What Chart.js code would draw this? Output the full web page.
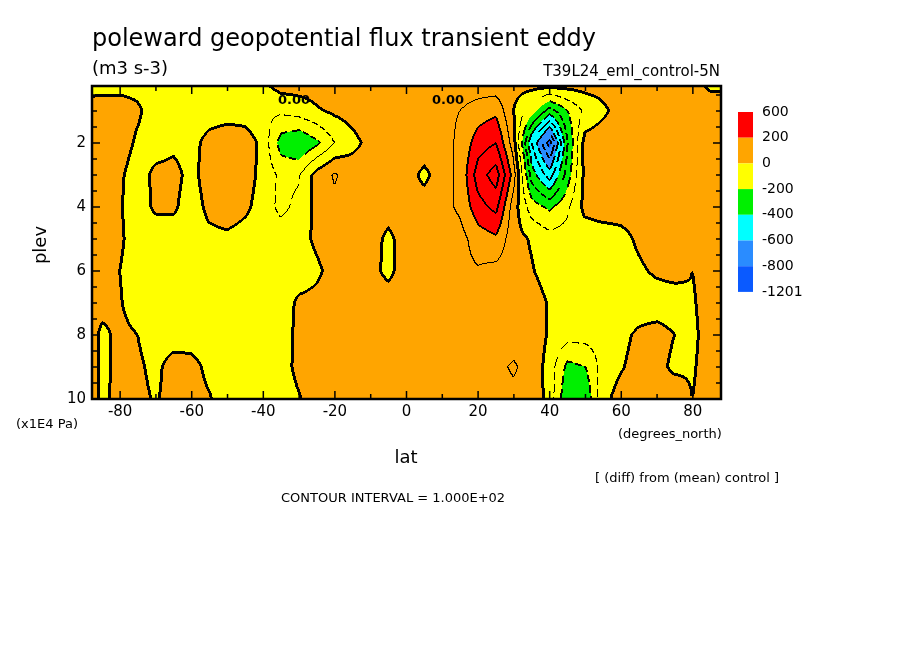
<!DOCTYPE html>
<html>
<head>
<meta charset="utf-8">
<script src="https://cdn.jsdelivr.net/npm/chart.js@4.4.1/dist/chart.umd.min.js"></script>
<style>
  body { margin: 0; background: #fff; }
  #wrap { width: 904px; height: 654px; }
</style>
</head>
<body>
<div id="wrap"><canvas id="flux"></canvas></div>
<script>
// grid of the field
var lats = [-90,-85,-80,-75,-70,-65,-60,-55,-50,-45,-40,-35,-30,-25,-20,-15,-10,-5,0,5,10,15,20,25,30,35,40,45,50,55,60,65,70,75,80,85,90];
var plevs = [0.2, 1, 2, 3, 4, 5, 6, 7, 8, 9, 10];
var flux = [
  // p = 0.2
  [-40,-40,-40,-40,-40,-40,-40,-40,-40,-40,-20,40,40,40,40,40,40,40,40,40,40,40,40,40,40,40,40,40,40,40,40,40,40,40,40,-20,-20],
  // p = 1
  [40,60,60,20,-60,-60,-60,-60,-60,-60,-80,-80,-50,-10,20,40,60,60,60,60,80,100,150,180,0,-150,-350,-200,-80,-20,40,60,60,60,60,60,60],
  // p = 2
  [40,60,60,-20,-60,-30,-40,40,80,60,-30,-250,-300,-220,-100,-30,30,60,90,80,60,120,250,300,50,-500,-850,-300,40,60,60,60,60,60,60,60,60],
  // p = 3
  [40,60,20,-60,30,40,-40,60,80,60,-40,-120,-110,40,110,60,60,60,60,-30,60,120,350,450,150,-350,-550,-250,30,60,60,60,60,60,60,60,60],
  // p = 4
  [40,60,10,-60,20,20,-60,30,80,30,-60,-120,-80,30,80,60,60,60,60,60,60,120,260,330,50,-150,-220,-120,30,60,60,60,60,60,60,60,60],
  // p = 5
  [60,60,20,-60,-60,-60,-60,-30,-30,-60,-60,-60,-40,20,60,60,60,-30,60,60,60,60,150,180,40,-10,-60,-60,-60,-60,-40,20,60,60,60,60,60],
  // p = 6
  [60,50,0,-60,-60,-60,-60,-60,-60,-60,-60,-60,-60,-20,40,60,40,-30,60,70,70,70,90,70,50,10,-50,-60,-60,-60,-60,-20,20,40,0,40,40],
  // p = 7
  [60,50,10,-60,-60,-60,-60,-60,-60,-60,-60,-60,20,30,60,60,60,60,60,60,60,60,60,60,60,60,-10,-60,-60,-60,-60,-60,-60,-60,-10,40,40],
  // p = 8
  [120,-30,30,0,-60,-60,-60,-60,-60,-60,-60,-60,30,50,40,60,60,60,60,60,60,60,60,60,60,60,-10,-60,-60,-60,-30,20,40,0,-20,40,40],
  // p = 9
  [120,-30,30,20,-30,50,40,-30,-60,-80,-50,-50,30,60,60,60,60,60,60,60,60,60,60,80,110,70,-40,-230,-200,-60,-10,40,30,-20,-10,40,40],
  // p = 10
  [120,-30,40,30,-10,40,40,10,-60,-60,-60,-60,-10,60,60,60,60,60,60,60,60,60,60,60,80,60,-30,-300,-280,-30,40,60,60,60,0,40,40]
];
var levels = [600, 200, 0, -200, -400, -600, -800, -1201];
var levelColors = ['#ff0000', '#ffa500', '#ffff00', '#00f000', '#00ffff', '#2a8cff', '#0a5aff'];
var latTicks = [-80, -60, -40, -20, 0, 20, 40, 60, 80];
var plevTicks = [2, 4, 6, 8, 10];

function rgb(hex) {
  return [parseInt(hex.substr(1,2),16), parseInt(hex.substr(3,2),16), parseInt(hex.substr(5,2),16)];
}

function locate(arr, v) {
  var i = 0;
  while (i < arr.length - 2 && v > arr[i + 1]) i++;
  var t = (v - arr[i]) / (arr[i + 1] - arr[i]);
  return [i, Math.max(0, Math.min(1, t))];
}

function fieldAt(lat, p) {
  var a = locate(lats, lat), b = locate(plevs, p);
  var i = a[0], tx = a[1], j = b[0], ty = b[1];
  var v00 = flux[j][i], v10 = flux[j][i + 1], v01 = flux[j + 1][i], v11 = flux[j + 1][i + 1];
  return (v00 * (1 - tx) + v10 * tx) * (1 - ty) + (v01 * (1 - tx) + v11 * tx) * ty;
}

function colorFor(v) {
  for (var k = 1; k < levels.length - 1; k++) {
    if (v >= levels[k]) return k - 1;
  }
  return levelColors.length - 1;
}

var contourPlugin = {
  id: 'contour',
  beforeDatasetsDraw: function(chart) {
    var ctx = chart.ctx, a = chart.chartArea;
    var xs = chart.scales.x, ys = chart.scales.y;
    var w = Math.round(a.right - a.left), h = Math.round(a.bottom - a.top);
    var vals = new Float32Array(w * h);
    for (var py = 0; py < h; py++) {
      var p = ys.getValueForPixel(a.top + py + 0.5);
      for (var px = 0; px < w; px++) {
        vals[py * w + px] = fieldAt(xs.getValueForPixel(a.left + px + 0.5), p);
      }
    }
    var img = ctx.createImageData(w, h);
    var cols = levelColors.map(rgb);
    var black = new Uint8Array(w * h);
    for (var py = 0; py < h; py++) {
      for (var px = 0; px < w; px++) {
        var idx = py * w + px, v = vals[idx];
        var k1 = Math.floor(v / 100);
        var nb = [];
        if (px + 1 < w) nb.push(idx + 1);
        if (py + 1 < h) nb.push(idx + w);
        for (var n = 0; n < nb.length; n++) {
          var k2 = Math.floor(vals[nb[n]] / 100);
          if (k1 !== k2) {
            var lev = Math.max(k1, k2) * 100;
            if (lev === 0) {
              black[idx] = 1; black[nb[n]] = 1;
              if (px > 0) black[idx - 1] = 1;
              if (py > 0) black[idx - w] = 1;
            }
            else if (lev < 0) {
              if (((px + py) >> 2) % 3 !== 0) {
                black[idx] = 1;
                if (lev <= -200) black[nb[n]] = 1;
              }
            }
            else {
              black[idx] = 1;
              if (lev >= 200) black[nb[n]] = 1;
            }
          }
        }
      }
    }
    for (var i = 0; i < w * h; i++) {
      var c = black[i] ? [0, 0, 0] : cols[colorFor(vals[i])];
      img.data[i * 4] = c[0]; img.data[i * 4 + 1] = c[1]; img.data[i * 4 + 2] = c[2]; img.data[i * 4 + 3] = 255;
    }
    ctx.putImageData(img, Math.round(a.left), Math.round(a.top));
  },
  afterDraw: function(chart) {
    var ctx = chart.ctx, a = chart.chartArea;
    var xs = chart.scales.x, ys = chart.scales.y;
    ctx.save();
    ctx.strokeStyle = '#000';
    ctx.lineWidth = 2.5;
    ctx.strokeRect(a.left, a.top, a.right - a.left, a.bottom - a.top);
    // inward ticks
    ctx.lineWidth = 1.5;
    ctx.beginPath();
    for (var lat = -80; lat <= 80; lat += 10) {
      var x = xs.getPixelForValue(lat), len = lat % 20 === 0 ? 8 : 5;
      ctx.moveTo(x, a.bottom); ctx.lineTo(x, a.bottom - len);
      ctx.moveTo(x, a.top); ctx.lineTo(x, a.top + len);
    }
    for (var p = 0.5; p <= 10; p += 0.5) {
      var y = ys.getPixelForValue(p), len2 = p % 2 === 0 ? 8 : 5;
      ctx.moveTo(a.left, y); ctx.lineTo(a.left + len2, y);
      ctx.moveTo(a.right, y); ctx.lineTo(a.right - len2, y);
    }
    ctx.stroke();
    ctx.fillStyle = '#000';
    ctx.font = '15px "DejaVu Sans"';
    ctx.textAlign = 'center'; ctx.textBaseline = 'top';
    latTicks.forEach(function(t) { ctx.fillText(String(t), xs.getPixelForValue(t), a.bottom + 6); });
    ctx.textAlign = 'right'; ctx.textBaseline = 'middle';
    plevTicks.forEach(function(t) { ctx.fillText(String(t), a.left - 6, ys.getPixelForValue(t)); });

    // colour key
    var kx = 738, ky = 112, kw = 15, kh = 25.7;
    ctx.textAlign = 'left';
    for (var k = 0; k < levelColors.length; k++) {
      ctx.fillStyle = levelColors[k];
      ctx.fillRect(kx, ky + k * kh, kw, kh);
    }
    ctx.fillStyle = '#000';
    ctx.font = '14px "DejaVu Sans"';
    for (var k = 0; k < levels.length; k++) {
      ctx.fillText(String(levels[k]), kx + 24, ky + k * kh);
    }

    // titles
    ctx.textBaseline = 'alphabetic';
    ctx.font = '24px "DejaVu Sans"';
    ctx.fillText('poleward geopotential flux transient eddy', 92, 46);
    ctx.font = '18px "DejaVu Sans"';
    ctx.fillText('(m3 s-3)', 92, 74);
    ctx.font = '15px "DejaVu Sans"';
    ctx.textAlign = 'right';
    ctx.fillText('T39L24_eml_control-5N', 720, 76);
    ctx.textAlign = 'left';
    ctx.font = '13px "DejaVu Sans"';
    ctx.fillText('(x1E4 Pa)', 16, 428);
    ctx.fillText('(degrees_north)', 618, 438);
    ctx.fillText('[ (diff) from (mean) control ]', 595, 482);
    ctx.fillText('CONTOUR INTERVAL = 1.000E+02', 281, 502);
    ctx.font = '18px "DejaVu Sans"';
    ctx.textAlign = 'center';
    ctx.fillText('lat', 406, 463);
    ctx.save();
    ctx.translate(46, 245);
    ctx.rotate(-Math.PI / 2);
    ctx.fillText('plev', 0, 0);
    ctx.restore();
    // a few contour labels
    ctx.font = 'bold 13px "DejaVu Sans"';
    ctx.fillStyle = '#000';
    [[294, 104], [448, 104]].forEach(function(l) { ctx.fillText('0.00', l[0], l[1]); });
    ctx.restore();
  }
};

new Chart(document.getElementById('flux'), {
  type: 'scatter',
  data: { datasets: [{ data: [] }] },
  options: {
    responsive: true,
    maintainAspectRatio: false,
    animation: false,
    devicePixelRatio: 1,
    layout: { padding: { left: 92, right: 183, top: 86, bottom: 255 } },
    plugins: { legend: { display: false }, tooltip: { enabled: false } },
    scales: {
      x: { display: false, min: -87.86, max: 87.86 },
      y: { display: false, reverse: true, min: 0.22, max: 10 }
    }
  },
  plugins: [contourPlugin]
});
</script>
</body>
</html>
